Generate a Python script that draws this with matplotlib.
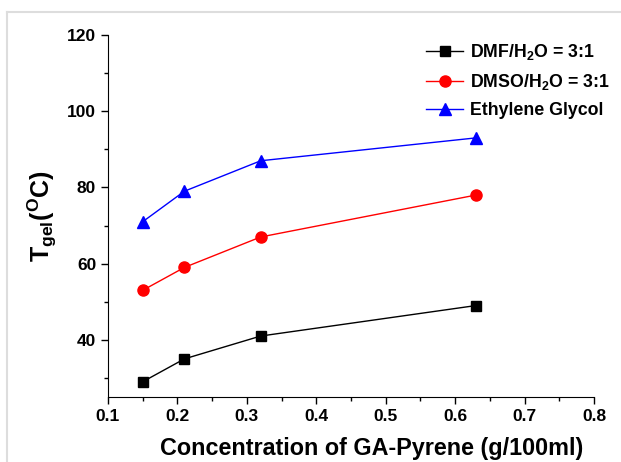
import matplotlib
matplotlib.use("Agg")
import matplotlib.pyplot as plt
from matplotlib.ticker import MultipleLocator
from matplotlib.lines import Line2D

plt.rcParams['font.family'] = ['Liberation Sans', 'DejaVu Sans']
plt.rcParams['font.weight'] = 'bold'
plt.rcParams['mathtext.fontset'] = 'custom'
plt.rcParams['mathtext.rm'] = 'Liberation Sans:bold'
plt.rcParams['mathtext.bf'] = 'Liberation Sans:bold'

conc = [0.15, 0.21, 0.32, 0.63]
dmf = [29, 35, 41, 49]
dmso = [53, 59, 67, 78]
eg = [71, 79, 87, 93]
labels = ["DMF/H$_\\mathbf{2}$O = 3:1", "DMSO/H$_\\mathbf{2}$O = 3:1", "Ethylene Glycol"]

W, H = 621, 462
fig = plt.figure(figsize=(6.21, 4.62), dpi=100)
ax = fig.add_axes([108 / W, (H - 397) / H, (594 - 108) / W, (397 - 35) / H])

# light grey frame lines at top-left of the image
fig.add_artist(Line2D([7 / W, 7 / W], [0, 1 - 12 / H], color='#dddddd', linewidth=1.5,
                      transform=fig.transFigure))
fig.add_artist(Line2D([7 / W, 1], [1 - 12 / H, 1 - 12 / H], color='#dddddd', linewidth=1.5,
                      transform=fig.transFigure))

ax.plot(conc, dmf, color='black', marker='s', markersize=7, linewidth=1, label=labels[0])
ax.plot(conc, dmso, color='red', marker='o', markersize=8, linewidth=1, label=labels[1])
ax.plot(conc, eg, color='blue', marker='^', markersize=8, linewidth=1, label=labels[2])

ax.set_xlim(0.1, 0.8)
ax.set_ylim(25, 120)
ax.xaxis.set_major_locator(MultipleLocator(0.1))
ax.xaxis.set_minor_locator(MultipleLocator(0.05))
ax.set_yticks([40, 60, 80, 100, 120])
ax.yaxis.set_minor_locator(MultipleLocator(10))
ax.spines['top'].set_visible(False)
ax.spines['right'].set_visible(False)
ax.tick_params(which='major', direction='out', length=5, width=1, labelsize=12.5)
ax.tick_params(which='minor', direction='out', length=3, width=1)
for lab in ax.get_xticklabels() + ax.get_yticklabels():
    lab.set_fontweight('bold')

ax.set_xlabel('Concentration of GA-Pyrene (g/100ml)', fontsize=16.8, fontweight='bold')
ax.xaxis.set_label_coords(0.543, -0.11)
ax.set_ylabel('T$_{\\mathbf{gel}}$($^{\\mathbf{O}}$C)', fontsize=18, fontweight='bold', labelpad=6)

leg = ax.legend(loc='upper right', bbox_to_anchor=(1.066, 1.024), frameon=False, fontsize=12.8,
                handlelength=2.1, handletextpad=0.4, labelspacing=0.55)
for t in leg.get_texts():
    t.set_fontweight('bold')

fig.savefig('out.png', dpi=100)
